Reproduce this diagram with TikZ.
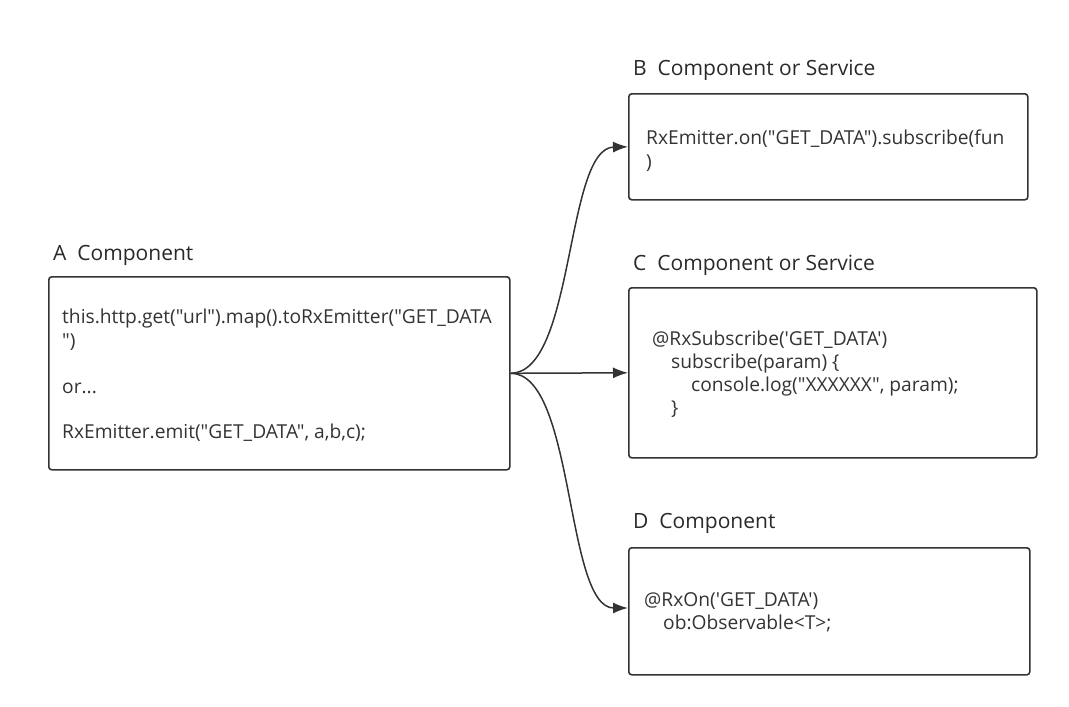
\documentclass[tikz,border=0pt]{standalone}
\usepackage{fontspec}
\setmainfont{Open Sans}[Ligatures=TeXOff]
\usetikzlibrary{arrows.meta}
\definecolor{ink}{HTML}{333333}
\tikzset{
  box/.style={draw=ink, line width=1.6pt, rounded corners=3pt, anchor=north west, inner sep=0pt},
  title/.style={anchor=base west, inner sep=0pt, font=\fontsize{21}{24}\selectfont, text=ink!80!black},
  body/.style={anchor=base west, inner sep=0pt, font=\fontsize{19.2}{22}\selectfont, text=ink},
  conn/.style={draw=ink, line width=1.5pt, -{Latex[length=15pt,width=11pt]}},
}
\begin{document}
\begin{tikzpicture}[x=1pt,y=-1pt]
\useasboundingbox (0,0) rectangle (1069,707);
% boxes
\node[box, minimum width=461pt, minimum height=193pt] (A) at (48,276) {};
\node[box, minimum width=399pt, minimum height=106pt] (B) at (628,93) {};
\node[box, minimum width=408pt, minimum height=170pt] (C) at (628,287) {};
\node[box, minimum width=401pt, minimum height=127pt] (D) at (628,547) {};
% titles
\node[title] (tA) at (53,260) {A\ \ Component};
\node[title] (tB) at (633,75) {B\ \ Component or Service};
\node[title] (tC) at (633,270) {C\ \ Component or Service};
\node[title] (tD) at (633,528) {D\ \ Component};
% A body
\node[body] (a1) at (62,323) {this.http.get("url").map().toRxEmitter("GET\_DATA};
\node[body] (a2) at (62,347) {")};
\node[body] (a3) at (62,393) {or...};
\node[body] (a4) at (62,438) {RxEmitter.emit("GET\_DATA", a,b,c);};
% B body
\node[body] (b1) at (646,144) {RxEmitter.on("GET\_DATA").subscribe(fun};
\node[body] (b2) at (646,168) {)};
% C body
\node[body] (c1) at (652,345) {@RxSubscribe('GET\_DATA')};
\node[body] (c2) at (671,368) {subscribe(param) \{};
\node[body] (c3) at (691,391) {console.log("XXXXXX", param);};
\node[body] (c4) at (671,414) {\}};
% D body
\node[body] (d1) at (644,606) {@RxOn('GET\_DATA')};
\node[body] (d2) at (663,629) {ob:Observable<T>;};
% connectors
\coordinate (s) at (A.east);
\draw[conn] (s) .. controls (575,373) and (565,148) .. (B.west);
\draw[conn] (s) -- (C.west);
\draw[conn] (s) .. controls (575,373) and (565,608) .. (628,608);
\end{tikzpicture}
\end{document}
